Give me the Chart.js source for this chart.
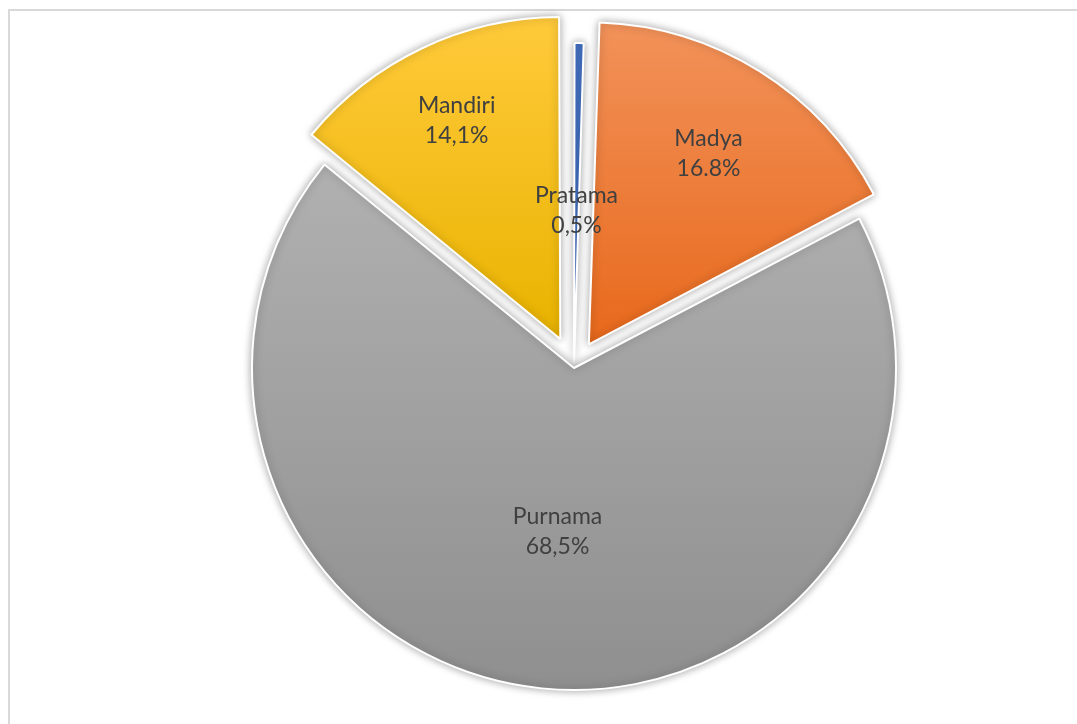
<!DOCTYPE html>
<html>
<head>
<meta charset="utf-8">
<script src="https://cdn.jsdelivr.net/npm/chart.js@4.4.1/dist/chart.umd.min.js"></script>
<style>
    body { margin: 0; background: #fff; overflow: hidden; }
    #wrap { position: relative; width: 1077px; height: 724px; }
    #frame { position: absolute; left: 8px; top: 9px; width: 1200px; height: 800px; border-top: 2px solid #d9d9d9; border-left: 2px solid #d9d9d9; }
    canvas { position: absolute; left: 0; top: 0; }
</style>
</head>
<body>
<div id="wrap">
    <div id="frame"></div>
    <canvas id="myChart" width="1077" height="724"></canvas>
</div>
<script>
const categories = ['Pratama', 'Madya', 'Purnama', 'Mandiri']
const shares = [0.5, 16.8, 68.5, 14.1]
const shareLabels = ['0,5%', '16.8%', '68,5%', '14,1%']

// how far each slice is pulled out (px) and where its label sits (fraction of radius)
const sliceOffsets = [3, 28, 0, 32]
const labelRadius = [0.48, 0.70, 0.51, 0.75]

const topColors = ['#4472c4', '#f2925a', '#b8b8b8', '#ffca3a']
const bottomColors = ['#4472c4', '#e8691c', '#8f8f8f', '#e9b300']

const pieRadius = 322

function sliceFill(context) {
    const chart = context.chart
    const area = chart.chartArea
    const i = context.dataIndex
    if (!area) return topColors[i]
    const cy = (area.top + area.bottom) / 2
    const y0 = cy - pieRadius
    const y1 = i == 2 ? cy + pieRadius : cy
    const g = chart.ctx.createLinearGradient(0, y0, 0, y1)
    g.addColorStop(0, topColors[i])
    g.addColorStop(1, bottomColors[i])
    return g
}

// soft drop shadow under the slices
const sliceShadow = {
    id: 'sliceShadow',
    beforeDatasetsDraw(chart) {
        const ctx = chart.ctx
        ctx.save()
        ctx.shadowColor = 'rgba(0, 0, 0, 0.35)'
        ctx.shadowBlur = 9
    },
    afterDatasetsDraw(chart) {
        chart.ctx.restore()
    }
}

// chart.js grows exploded arcs a little, undo that so all slices keep one radius
const radiusFix = {
    id: 'radiusFix',
    beforeDatasetsDraw(chart) {
        const meta = chart.getDatasetMeta(0)
        meta.data.forEach((arc, i) => {
            const circ = arc.endAngle - arc.startAngle
            const fix = 1 - Math.sin(Math.min(Math.PI, circ))
            arc.outerRadius = meta.controller.outerRadius - fix * sliceOffsets[i]
        })
    }
}

const sliceLabels = {
    id: 'sliceLabels',
    afterDatasetsDraw(chart) {
        const ctx = chart.ctx
        const meta = chart.getDatasetMeta(0)
        ctx.save()
        ctx.shadowColor = 'transparent'
        ctx.font = '23px Lato'
        ctx.fillStyle = '#404040'
        ctx.textAlign = 'center'
        ctx.textBaseline = 'middle'
        meta.data.forEach((arc, i) => {
            const mid = (arc.startAngle + arc.endAngle) / 2
            const d = sliceOffsets[i] + labelRadius[i] * meta.controller.outerRadius
            const x = arc.x + Math.cos(mid) * d
            const y = arc.y + Math.sin(mid) * d
            ctx.fillText(categories[i], x, y - 15)
            ctx.fillText(shareLabels[i], x, y + 15)
        })
        ctx.restore()
    }
}

const data = {
    labels: categories,
    datasets: [{
        data: shares,
        backgroundColor: sliceFill,
        borderColor: '#ffffff',
        borderWidth: 2,
        offset: sliceOffsets.map(o => o * 4)
    }]
}

const config = {
    type: 'pie',
    data: data,
    options: {
        responsive: false,
        animation: false,
        radius: pieRadius,
        layout: {
            padding: { left: 71, right: 0, top: 12, bottom: 0 }
        },
        plugins: {
            legend: { display: false },
            tooltip: { enabled: false }
        }
    },
    plugins: [sliceShadow, radiusFix, sliceLabels]
}

const myChart = new Chart(document.getElementById('myChart'), config)
</script>
</body>
</html>
